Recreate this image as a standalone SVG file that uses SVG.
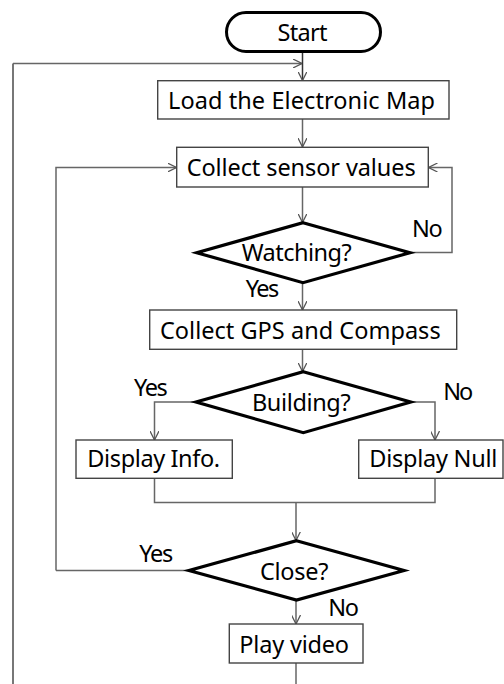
<svg xmlns="http://www.w3.org/2000/svg" width="504" height="684" viewBox="0 0 504 684">
<defs>
<marker id="arr" viewBox="0 0 10 10" refX="10" refY="5" markerWidth="9" markerHeight="9" markerUnits="userSpaceOnUse" orient="auto">
<path d="M0,0 L10,5 L0,10" fill="none" stroke="#555" stroke-width="1.4"/>
</marker>
<style>
.box{fill:#fff;stroke:#444;stroke-width:1.4}
.term{fill:#fff;stroke:#000;stroke-width:3}
.dia{fill:#fff;stroke:#000;stroke-width:3.2;stroke-linejoin:miter}
.t{font-family:"Noto Sans","DejaVu Sans",sans-serif;font-size:23.5px;fill:#000;text-anchor:middle}
.l{font-family:"Noto Sans","DejaVu Sans",sans-serif;font-size:23.5px;fill:#000}
.c{fill:none;stroke:#666;stroke-width:1.5}
.ca{fill:none;stroke:#666;stroke-width:1.5;marker-end:url(#arr)}
</style>
</defs>
<g id="connectors">
<path class="ca" d="M302.5,52 V80.5" style="stroke:#333"/>
<path class="c" d="M13,684 V63.5" style="stroke:#777;stroke-width:2"/>
<path class="ca" d="M13,63.5 H302"/>
<path class="ca" d="M302.5,119 V147"/>
<path class="ca" d="M302.5,187 V222.5"/>
<path class="ca" d="M410,252.5 H452 V167.5 H428.5"/>
<path class="ca" d="M56,570.5 V167.5 H176.5"/>
<path class="ca" d="M302.5,282.5 V310"/>
<path class="ca" d="M302.5,349.5 V371.5"/>
<path class="ca" d="M196,402 H154.5 V440"/>
<path class="ca" d="M410.5,402 H435 V440"/>
<path class="c" d="M154.5,478.5 V502.5 H435 V478.5"/>
<path class="ca" d="M296,502.5 V540.5"/>
<path class="c" d="M189,570.5 H56"/>
<path class="ca" d="M296,600 V624"/>
<path class="c" d="M296,663 V684"/>
</g>
<g id="start">
<rect class="term" x="226.5" y="12.5" width="154" height="39" rx="19.5"/>
<text class="t" x="302.5" y="40.5" textLength="50">Start</text>
</g>
<g id="load">
<rect class="box" x="157.7" y="80.7" width="291.3" height="38.3"/>
<text class="t" x="301.5" y="108.5" textLength="267">Load the Electronic Map</text>
</g>
<g id="collect-sensor">
<rect class="box" x="176.7" y="147.3" width="251.6" height="39.7"/>
<text class="t" x="301.2" y="176" textLength="229">Collect sensor values</text>
</g>
<g id="watching">
<polygon class="dia" points="303,222.7 410,252.7 303,282.7 196.7,252.7"/>
<text class="t" x="296.7" y="260.5" textLength="110">Watching?</text>
<text class="l" x="412" y="237" textLength="30.7">No</text>
<text class="l" x="245.7" y="297" textLength="33.6">Yes</text>
</g>
<g id="collect-gps">
<rect class="box" x="149.7" y="310" width="307" height="39.3"/>
<text class="t" x="300.3" y="338.7" textLength="280.7">Collect GPS and Compass</text>
</g>
<g id="building">
<polygon class="dia" points="303.3,371.7 410.7,402 303.3,432.7 196,402"/>
<text class="t" x="301.3" y="410.5" textLength="98.7">Building?</text>
<text class="l" x="134" y="395.5" textLength="33.7">Yes</text>
<text class="l" x="443.3" y="399.5" textLength="30">No</text>
</g>
<g id="display-info">
<rect class="box" x="76" y="440" width="156.3" height="38.3"/>
<text class="t" x="153.7" y="467" textLength="132.7">Display Info.</text>
</g>
<g id="display-null">
<rect class="box" x="358.7" y="440" width="144.3" height="38.3"/>
<text class="t" x="433.3" y="467" textLength="128">Display Null</text>
</g>
<g id="close">
<polygon class="dia" points="296.5,540.7 404,570.5 296.5,600 189,570.5"/>
<text class="t" x="294.2" y="579.5" textLength="68.3">Close?</text>
<text class="l" x="139.3" y="562" textLength="34">Yes</text>
<text class="l" x="328.3" y="615.5" textLength="30.7">No</text>
</g>
<g id="play-video">
<rect class="box" x="229.3" y="624" width="133.7" height="39"/>
<text class="t" x="294.2" y="653" textLength="109.7">Play video</text>
</g>
</svg>
